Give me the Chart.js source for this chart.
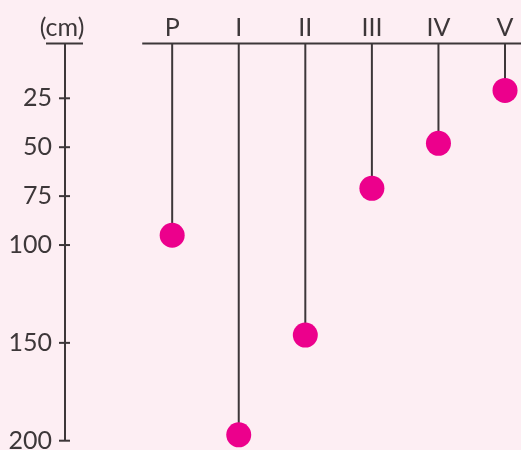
<!DOCTYPE html>
<html>
<head>
<meta charset="utf-8">
<script src="https://cdn.jsdelivr.net/npm/chart.js@4"></script>
<style>
  html, body { margin: 0; padding: 0; background: #fdeef3; }
</style>
</head>
<body>
<canvas id="stemChart" width="521" height="450"></canvas>
<script>
// data
const categories = ['P', 'I', 'II', 'III', 'IV', 'V'];
const heights = [95, 197, 146, 71, 48, 21];
const yTickValues = [25, 50, 75, 100, 150, 200];
const yUnit = '(cm)';

const inkColor = '#3d3739';
const dotColor = '#ec008c';
const bgColor = '#fdeef3';
const font = { family: 'Lato', size: 25 };

// draws background, the top rule, the stems and the little cross ticks
const decorPlugin = {
    id: 'decor',
    beforeDraw(chart) {
        const ctx = chart.ctx;
        ctx.save();
        ctx.fillStyle = bgColor;
        ctx.fillRect(0, 0, chart.width, chart.height);
        ctx.restore();
    },
    beforeDatasetsDraw(chart) {
        const ctx = chart.ctx;
        const area = chart.chartArea;
        const x = chart.scales.x;
        const y = chart.scales.y;
        ctx.save();
        ctx.strokeStyle = inkColor;
        ctx.lineWidth = 2;

        // horizontal rule above the categories
        ctx.beginPath();
        ctx.moveTo(x.getPixelForValue(-0.45), area.top);
        ctx.lineTo(chart.width, area.top);
        ctx.stroke();

        // cap on top of the y axis
        ctx.beginPath();
        ctx.moveTo(area.left - 19, area.top);
        ctx.lineTo(area.left + 18, area.top);
        ctx.stroke();

        // tick marks crossing the axis
        y.ticks.forEach(t => {
            const py = y.getPixelForValue(t.value);
            ctx.beginPath();
            ctx.moveTo(area.left - 6, py);
            ctx.lineTo(area.left + 5, py);
            ctx.stroke();
        });

        // stems from the rule down to each dot
        chart.getDatasetMeta(0).data.forEach(p => {
            ctx.beginPath();
            ctx.moveTo(p.x, area.top);
            ctx.lineTo(p.x, p.y);
            ctx.stroke();
        });

        // unit label over the y axis
        ctx.fillStyle = inkColor;
        ctx.font = font.size + 'px ' + font.family;
        ctx.textAlign = 'center';
        ctx.textBaseline = 'middle';
        ctx.fillText(yUnit, area.left - 3, 28);
        ctx.restore();
    }
};

const ctx = document.getElementById('stemChart').getContext('2d');
new Chart(ctx, {
    type: 'scatter',
    data: {
        datasets: [{
            data: heights.map((h, i) => ({ x: i, y: h })),
            backgroundColor: dotColor,
            borderWidth: 0,
            pointRadius: 12.5,
            pointHoverRadius: 12.5,
            clip: false
        }]
    },
    options: {
        responsive: false,
        animation: false,
        events: [],
        layout: { autoPadding: false, padding: { top: 0, right: 0, bottom: 9.3, left: 0 } },
        plugins: {
            legend: { display: false },
            tooltip: { enabled: false }
        },
        scales: {
            x: {
                type: 'linear',
                position: 'top',
                min: -1.61,
                max: 5.24,
                grid: { display: false, drawTicks: false },
                border: { display: false },
                afterBuildTicks: s => { s.ticks = categories.map((c, i) => ({ value: i })); },
                afterFit: s => { s.height = 43.5; s.paddingLeft = 0; s.paddingRight = 0; },
                ticks: {
                    color: inkColor,
                    font: font,
                    padding: 1,
                    maxRotation: 0,
                    autoSkip: false,
                    callback: v => categories[v]
                }
            },
            y: {
                type: 'linear',
                reverse: true,
                min: -3,
                max: 200,
                grid: { display: false, drawTicks: false },
                border: { display: true, color: inkColor, width: 2 },
                afterBuildTicks: s => { s.ticks = yTickValues.map(v => ({ value: v })); },
                afterFit: s => { s.width = 65; s.paddingTop = 0; s.paddingBottom = 0; },
                ticks: {
                    color: inkColor,
                    font: font,
                    padding: 13,
                    autoSkip: false
                }
            }
        }
    },
    plugins: [decorPlugin]
});
</script>
</body>
</html>
